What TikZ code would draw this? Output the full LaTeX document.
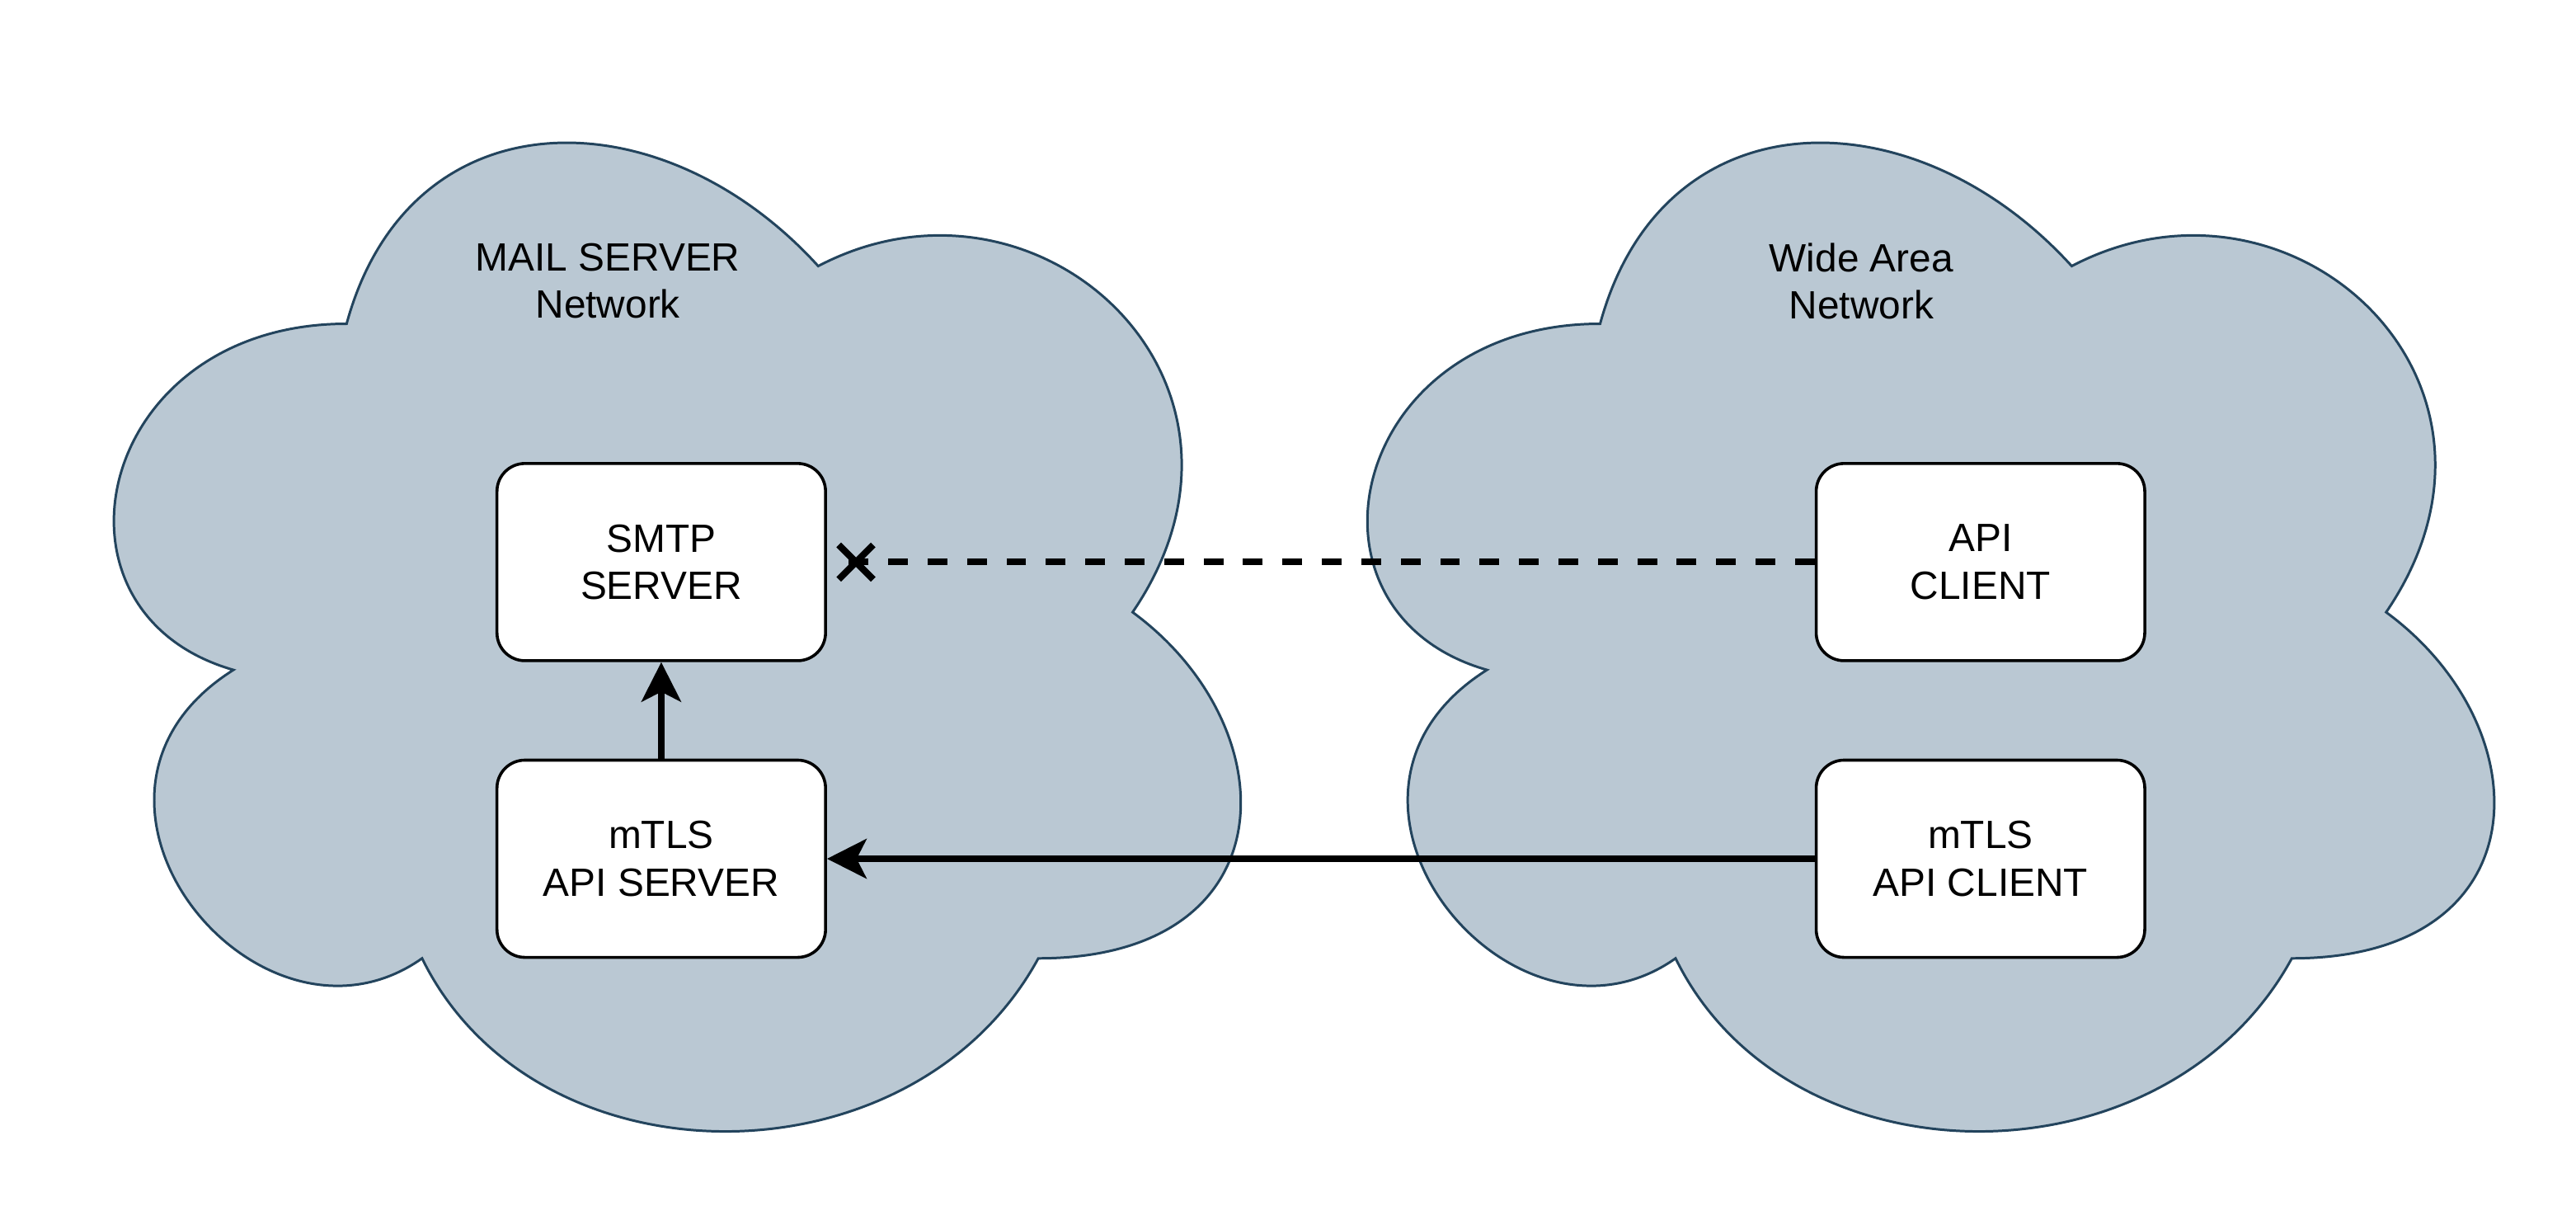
\documentclass[tikz,border=0pt]{standalone}
\usepackage{fontspec}
\setmainfont{Liberation Sans}
\usepackage{tikz}
\usetikzlibrary{positioning, arrows.meta, shapes.misc}
\definecolor{cloudfill}{HTML}{BAC8D3}
\definecolor{cloudline}{HTML}{23445D}

\begin{document}
\begin{tikzpicture}[x=0.5pt, y=-0.5pt,
  every node/.style={font=\fontsize{12}{14.4}\selectfont},
  netcloud/.style={draw=cloudline, fill=cloudfill, line width=0.75pt},
  box/.style={rectangle, draw, fill=white, line width=0.9pt, rounded corners=8.5pt,
    minimum width=100pt, minimum height=60pt, align=center},
  title/.style={align=center},
  link/.style={line width=2pt, -{Stealth[length=12pt, width=12pt, inset=3pt]}},
  xmark/.style={cross out, draw, line width=2pt, minimum size=8.5pt, inner sep=0pt}]

\useasboundingbox (0,0) rectangle (1568,745);

% Network clouds
\foreach \cx in {19.6, 782.6} {
  \begin{scope}[shift={(\cx,21.5)}, x=382.75pt, y=-351pt]
    \draw[netcloud] (0.25,0.25) .. controls (0.05,0.25) and (0,0.5) .. (0.16,0.55)
      .. controls (0,0.66) and (0.18,0.9) .. (0.31,0.8)
      .. controls (0.4,1) and (0.7,1) .. (0.8,0.8)
      .. controls (1,0.8) and (1,0.6) .. (0.875,0.5)
      .. controls (1,0.3) and (0.8,0.1) .. (0.625,0.2)
      .. controls (0.5,0.05) and (0.3,0.05) .. (0.25,0.25) -- cycle;
  \end{scope}
}

% Cloud titles
\node[title] at (370,171) (mailnet) {MAIL SERVER\\Network};
\node[title] at (1133,171) (wan) {Wide Area\\Network};

% Mail server side
\node[box] at (402.5,342) (smtp) {SMTP\\SERVER};
\node[box] at (402.5,522.5) (apiserver) {mTLS\\API SERVER};

% Wide area side
\node[box] at (1205.5,342) (apiclient) {API\\CLIENT};
\node[box] at (1205.5,522.5) (mtlsclient) {mTLS\\API CLIENT};

% Blocked direct path
\node[xmark] at (521,342) (smtpx) {};
\draw[line width=2pt, dash pattern=on 6pt off 6pt] (apiclient.west) -- (smtpx.west);

% Allowed paths
\draw[link] (mtlsclient) -- (apiserver);
\draw[link] (apiserver) -- (smtp);
\end{tikzpicture}
\end{document}
